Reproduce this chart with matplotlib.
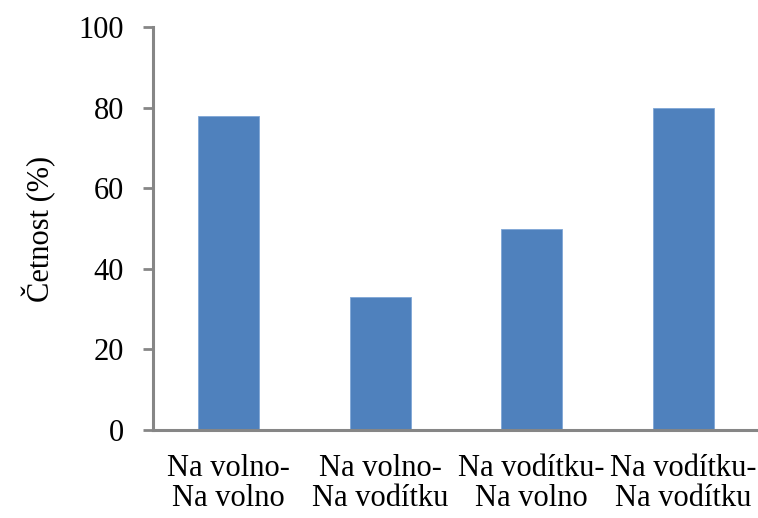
import matplotlib
matplotlib.use("Agg")
import matplotlib.pyplot as plt
import numpy as np

categories = ["Na volno-\nNa volno", "Na volno-\nNa vodítku", "Na vodítku-\nNa volno", "Na vodítku-\nNa vodítku"]
values = [78, 33, 50, 80]
yticks = [0, 20, 40, 60, 80, 100]

plt.rcParams['font.family'] = ['Liberation Serif', 'DejaVu Serif']

fig = plt.figure(figsize=(7.58, 5.18), dpi=100)
ax = fig.add_axes([153/758, 88/518, 606/758, 403/518])
x = np.arange(len(categories))
ax.bar(x, values, width=0.4, color="#4F81BD", edgecolor="#7FA6D6", linewidth=0.6)
ax.set_xlim(-0.5, len(categories) - 0.5)
ax.set_ylim(0, 100)
ax.set_yticks(yticks)
ax.set_yticklabels([str(t) for t in yticks], fontsize=22)
ax.set_xticks(x)
ax.set_xticklabels(categories, fontsize=22, linespacing=1.08)
ax.tick_params(axis='x', length=0, pad=17)
ax.tick_params(axis='y', length=7, width=2, color="#868686", pad=14, direction='out')
for s in ['top', 'right']:
    ax.spines[s].set_visible(False)
for s in ['left', 'bottom']:
    ax.spines[s].set_color("#868686")
    ax.spines[s].set_linewidth(2.2)
ax.set_ylabel("Četnost (%)", fontsize=22, labelpad=16)
fig.savefig("out.png", dpi=100)
